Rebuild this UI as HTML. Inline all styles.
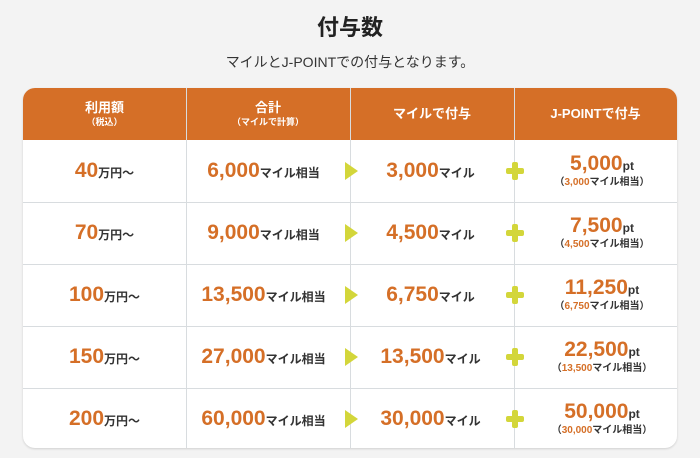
<!DOCTYPE html>
<html><head><meta charset="utf-8"><style>
*{margin:0;padding:0;box-sizing:border-box}
body{width:700px;height:458px;background:#f3f3f3;font-family:"Liberation Sans","Noto Sans CJK JP",sans-serif;color:#333;position:relative;overflow:hidden}
.t{position:absolute;left:0;width:700px;text-align:center}
.tbl{position:absolute;left:23px;top:88px;width:654px;height:360px;background:#fff;border-radius:12px;overflow:hidden;box-shadow:0 1px 2px rgba(0,0,0,.15)}
.hd{position:absolute;left:0;top:0;width:654px;height:52px;background:#d56f27}
.c{position:absolute;display:flex;flex-direction:column;align-items:center;justify-content:center;text-align:center;font-weight:bold}
.h{color:#fff;font-size:13px;line-height:16px}
.h small{font-size:9px;line-height:12px}
.vl{position:absolute;top:0;width:1px;height:360px;background:#d8dcdf}
.hl{position:absolute;left:0;width:654px;height:1px;background:#d8dcdf}
.o{color:#d56f27;font-size:21px}
.u{font-size:12px;color:#333}
.s{font-size:10px;color:#333;line-height:14px}
.s b{color:#d56f27}
.tri{position:absolute;width:0;height:0;border-top:9px solid transparent;border-bottom:9px solid transparent;border-left:13px solid #d3d63a}
.plus{position:absolute;width:18px;height:18px}
.plus:before{content:"";position:absolute;left:6px;top:0;width:6px;height:18px;background:#d3d63a;border-radius:2px}
.plus:after{content:"";position:absolute;left:0;top:6px;width:18px;height:6px;background:#d3d63a;border-radius:2px}
</style></head><body>
<div class="t" style="top:10px;font-size:22px;font-weight:bold;color:#222">付与数</div>
<div class="t" style="top:52px;font-size:14px;color:#333">マイルとJ-POINTでの付与となります。</div>
<div class="tbl">
<div class="hd"></div>
<div class="vl" style="left:163px"></div><div class="vl" style="left:327px"></div><div class="vl" style="left:491px"></div>
<div class="hl" style="top:114px"></div><div class="hl" style="top:176px"></div><div class="hl" style="top:238px"></div><div class="hl" style="top:300px"></div>
<div class="c h" style="left:0;width:163px;top:0;height:52px">利用額<small>（税込）</small></div>
<div class="c h" style="left:163px;width:164px;top:0;height:52px">合計<small>（マイルで計算）</small></div>
<div class="c h" style="left:327px;width:164px;top:0;height:52px">マイルで付与</div>
<div class="c h" style="left:491px;width:163px;top:0;height:52px">J-POINTで付与</div>
</div>
<div id="rows"></div>
<script>
var d=[["40","6,000","3,000","5,000"],["70","9,000","4,500","7,500"],["100","13,500","6,750","11,250"],["150","27,000","13,500","22,500"],["200","60,000","30,000","50,000"]];
var h='';
d.forEach(function(r,i){var y=140+i*62,hh=62;
h+='<div class="c" style="left:23px;width:163px;top:'+y+'px;height:'+hh+'px;flex-direction:row;align-items:baseline;align-content:center;flex-wrap:wrap"><span class="o">'+r[0]+'</span><span class="u">万円～</span></div>';
h+='<div class="c" style="left:186px;width:155px;top:'+y+'px;height:'+hh+'px;flex-direction:row;align-items:baseline;align-content:center;flex-wrap:wrap"><span class="o">'+r[1]+'</span><span class="u">マイル相当</span></div>';
h+='<div class="tri" style="left:345px;top:'+(y+22)+'px"></div>';
h+='<div class="c" style="left:358px;width:145px;top:'+y+'px;height:'+hh+'px;flex-direction:row;align-items:baseline;align-content:center;flex-wrap:wrap"><span class="o">'+r[2]+'</span><span class="u">マイル</span></div>';
h+='<div class="plus" style="left:506px;top:'+(y+22)+'px"></div>';
h+='<div class="c" style="left:527px;width:150px;top:'+y+'px;height:'+hh+'px"><div><span class="o">'+r[3]+'</span><span class="u">pt</span></div><div class="s">（<b>'+r[2]+'</b>マイル相当）</div></div>';
});
document.getElementById('rows').innerHTML=h;
</script>
</body></html>
